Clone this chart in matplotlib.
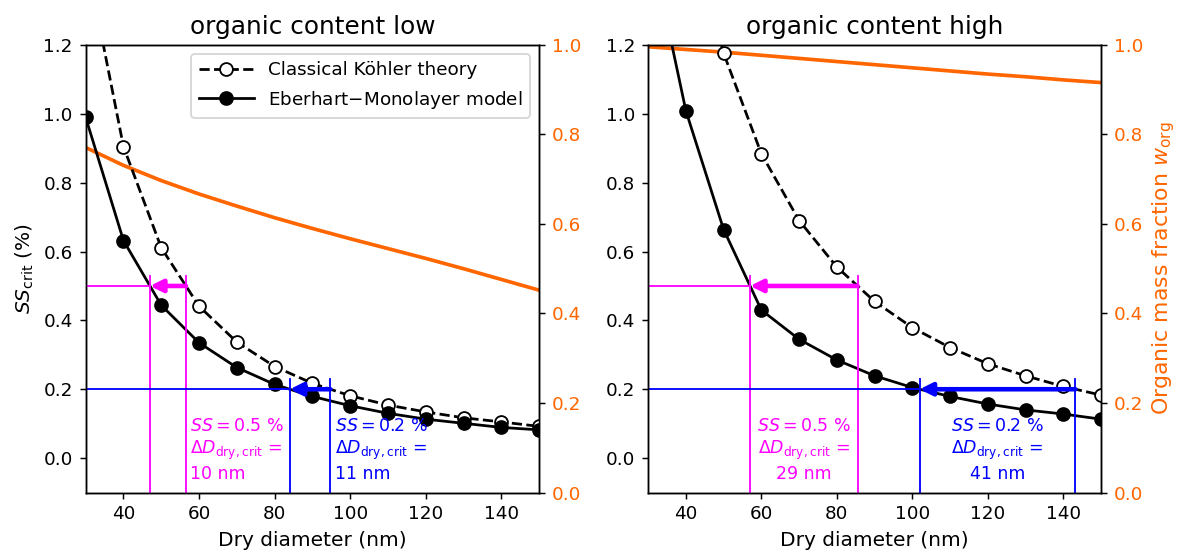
import matplotlib.pyplot as plt
import numpy as np

# dry diameters (nm)
d_dry = [30, 40, 50, 60, 70, 80, 90, 100, 110, 120, 130, 140, 150]

# organic content low
koehler_low = [1.46, 0.905, 0.611, 0.441, 0.337, 0.266, 0.217, 0.181, 0.154, 0.134, 0.117, 0.105, 0.092]
eberhart_low = [0.990, 0.632, 0.444, 0.335, 0.263, 0.214, 0.179, 0.152, 0.130, 0.113, 0.101, 0.089, 0.082]
w_org_low = [0.771, 0.731, 0.697, 0.667, 0.640, 0.614, 0.590, 0.567, 0.545, 0.523, 0.500, 0.476, 0.452]

# organic content high
koehler_high = [2.1, 1.60, 1.176, 0.884, 0.690, 0.555, 0.455, 0.379, 0.321, 0.274, 0.239, 0.208, 0.183]
eberhart_high = [1.525, 1.009, 0.664, 0.430, 0.345, 0.285, 0.239, 0.205, 0.179, 0.157, 0.140, 0.128, 0.113]
w_org_high = [0.996, 0.990, 0.984, 0.977, 0.970, 0.963, 0.956, 0.949, 0.942, 0.935, 0.929, 0.922, 0.916]

ss_levels = [0.5, 0.2]
ss_colors = ['magenta', 'blue']
dd_labels_low = ['10 nm', '11 nm']
dd_labels_high = ['29 nm', '41 nm']

orange = '#ff6600'

fig = plt.figure(figsize=(1178 / 132, 554 / 132), dpi=132)
ax_low = fig.add_axes([0.0727, 0.111, 0.3851, 0.8078])
ax_high = fig.add_axes([0.5502, 0.111, 0.3845, 0.8078])

panels = [
    (ax_low, 'organic content low', koehler_low, eberhart_low, w_org_low, dd_labels_low, 'left'),
    (ax_high, 'organic content high', koehler_high, eberhart_high, w_org_high, dd_labels_high, 'center'),
]


def crossing(x, y, level):
    # curves decrease with x -> reverse for interp
    return np.interp(level, y[::-1], x[::-1])


for ax, title, kt, em, w, dd_labels, align in panels:
    ax2 = ax.twinx()
    ax2.plot(d_dry, w, color=orange, lw=2)
    ax2.set_ylim(0, 1.0)
    ax2.set_yticks([0.0, 0.2, 0.4, 0.6, 0.8, 1.0])
    ax2.tick_params(axis='y', labelcolor=orange, labelsize=10)
    # keep the SS curves above the orange line
    ax.set_zorder(ax2.get_zorder() + 1)
    ax.patch.set_visible(False)

    ax.plot(d_dry, kt, 'k--o', mfc='white', mec='black', ms=7, lw=1.5,
            label='Classical Köhler theory')
    ax.plot(d_dry, em, 'k-o', ms=7, lw=1.5, label='Eberhart$-$Monolayer model')
    ax.set_xlim(30, 150)
    ax.set_ylim(-0.1, 1.2)
    ax.set_xticks([40, 60, 80, 100, 120, 140])
    ax.set_yticks([0.0, 0.2, 0.4, 0.6, 0.8, 1.0, 1.2])
    ax.set_title(title, fontsize=13.5)
    ax.set_xlabel('Dry diameter (nm)', fontsize=11)
    ax.tick_params(labelsize=10)

    for ss, c, lab in zip(ss_levels, ss_colors, dd_labels):
        x_em = crossing(np.array(d_dry), np.array(em), ss)
        x_kt = crossing(np.array(d_dry), np.array(kt), ss)
        ax.plot([30, x_em], [ss, ss], color=c, lw=1)
        ax.plot([x_em, x_em], [-0.1, ss + 0.03], color=c, lw=1)
        ax.plot([x_kt, x_kt], [-0.1, ss + 0.03], color=c, lw=1)
        ax.annotate('', xy=(x_em, ss), xytext=(x_kt, ss),
                    arrowprops=dict(arrowstyle='-|>', color=c, lw=2.5,
                                    mutation_scale=14, shrinkA=0, shrinkB=0))
        txt = '$SS = %.1f$ %%\n$\\Delta D_\\mathrm{dry,crit}$ =\n%s' % (ss, lab)
        if align == 'left':
            ax.text(x_kt + 1.2, 0.118, txt, color=c, fontsize=9.5, ha='left', va='top',
                    ma='left')
        else:
            ax.text((x_em + x_kt) / 2, 0.118, txt, color=c, fontsize=9.5, ha='center',
                    va='top', ma='center')

    if ax is ax_low:
        ax.set_ylabel('$SS_\\mathrm{crit}$ (%)', fontsize=11)
        ax.legend(loc='upper right', fontsize=10, handlelength=3)
    else:
        ax2.set_ylabel('Organic mass fraction $w_\\mathrm{org}$', color=orange, fontsize=12)

fig.savefig('out.png', dpi=132)
